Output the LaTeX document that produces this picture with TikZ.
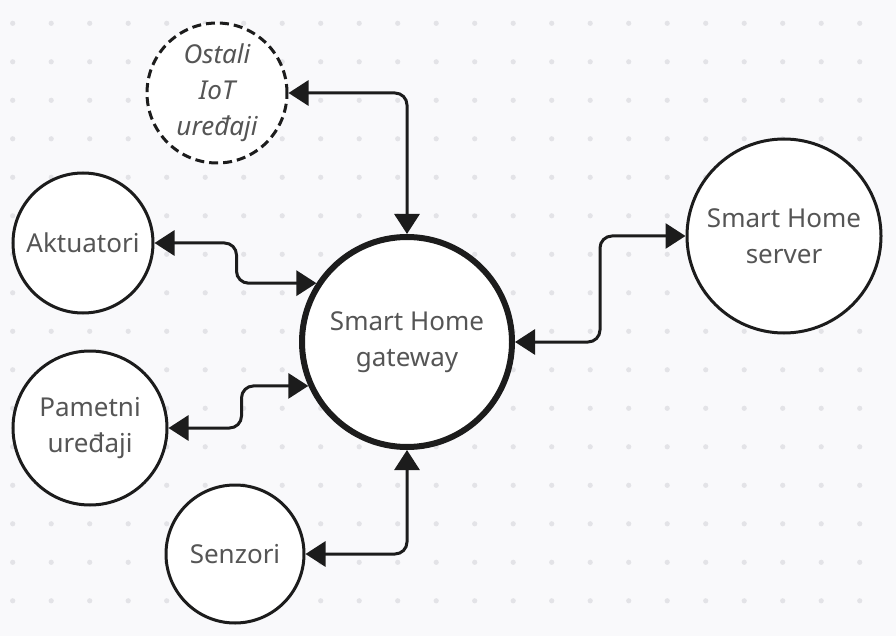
\documentclass[tikz,border=0pt]{standalone}
\usepackage{fontspec}
\setmainfont{Noto Sans}
\usetikzlibrary{positioning,arrows.meta}
\definecolor{bg}{HTML}{F9F9FB}
\definecolor{griddot}{HTML}{E3E3E7}
\definecolor{ink}{HTML}{1C1C1C}
\definecolor{txt}{HTML}{555555}

\begin{document}
\begin{tikzpicture}[x=1pt,y=-1pt,
  font=\fontsize{26}{36}\selectfont,
  dev/.style={circle,draw=ink,line width=3pt,fill=white,text=txt,align=center,inner sep=0pt},
  hub/.style={dev,line width=6pt},
  link/.style={draw=ink,line width=3pt,rounded corners=12pt,
    {Triangle[length=20pt 0 0,width=25pt 0 0]}-{Triangle[length=20pt 0 0,width=25pt 0 0]}}]
% page and dotted canvas
\fill[bg] (0,0) rectangle (896,636);
\useasboundingbox (0,0) rectangle (896,636);
\foreach \i in {0,...,22}
  \foreach \j in {0,...,15}
    \fill[griddot] (12.7+38.5*\i,23.3+38.5*\j) circle (2.6pt);
% devices
\node[hub,minimum size=210pt] (gw) at (407,342) {Smart Home\\gateway};
\node[dev,minimum size=194pt] (srv) at (784,236) {Smart Home\\server};
\node[dev,dashed,dash pattern=on 9pt off 5pt,minimum size=140pt,font=\fontsize{26}{36}\selectfont\itshape] (ost) at (217,93) {Ostali\\IoT\\uređaji};
\node[dev,minimum size=140pt] (akt) at (83,243) {Aktuatori};
\node[dev,minimum size=154pt] (pam) at (90,428) {Pametni\\uređaji};
\node[dev,minimum size=138pt] (sen) at (235,554) {Senzori};
% links to the gateway
\draw[link] (ost.east) -| (gw.north);
\draw[link] (akt.east) -- ++(82,0) |- (gw.147);
\draw[link] (pam.east) -- ++(73,0) |- (gw.204);
\draw[link] (sen.east) -| (gw.south);
\draw[link] (gw.east) -- ++(85,0) |- (srv.west);
\end{tikzpicture}
\end{document}
